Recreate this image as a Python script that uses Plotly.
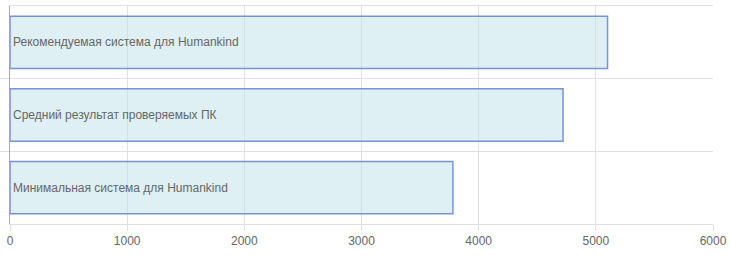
import plotly.graph_objects as go

categories = ["Минимальная система для Humankind",
              "Средний результат проверяемых ПК",
              "Рекомендуемая система для Humankind"]
values = [3780, 4720, 5100]
x_ticks = [0, 1000, 2000, 3000, 4000, 5000, 6000]

ypos = list(range(len(categories)))

fig = go.Figure()
fig.add_trace(go.Bar(
    x=values, y=ypos, orientation="h", width=0.72,
    text=categories, textposition="inside", insidetextanchor="start",
    textfont=dict(family="Liberation Sans, Arial, sans-serif", size=12, color="#666666"),
    marker=dict(color="rgba(191,225,233,0.5)",
                line=dict(color="rgba(95,130,210,0.85)", width=1.5)),
    hoverinfo="skip", cliponaxis=False,
))

fig.update_layout(
    width=730, height=255,
    margin=dict(l=10, r=17, t=6, b=31, autoexpand=False),
    paper_bgcolor="white", plot_bgcolor="white",
    showlegend=False,
    font=dict(family="Liberation Sans, Arial, sans-serif", size=12, color="#666666"),
    xaxis=dict(range=[0, 6000], tickvals=x_ticks, ticktext=[str(v) for v in x_ticks],
               automargin=False,
               showgrid=True, gridcolor="#e0e0e0", gridwidth=1,
               zeroline=False, showline=True, linecolor="#e0e0e0", linewidth=1, mirror=True,
               ticks="outside", ticklen=6, tickcolor="#e0e0e0",
               tickfont=dict(size=12, color="#666666")),
    yaxis=dict(range=[-0.5, len(categories) - 0.5], tickvals=[0.5, 1.5],
               automargin=False,
               showticklabels=False, showgrid=True, gridcolor="#e0e0e0",
               zeroline=False, showline=True, linecolor="#a8a8a8", linewidth=1,
               ticks="outside", ticklen=10, tickcolor="#e0e0e0"),
)

fig.write_html("out.html")
